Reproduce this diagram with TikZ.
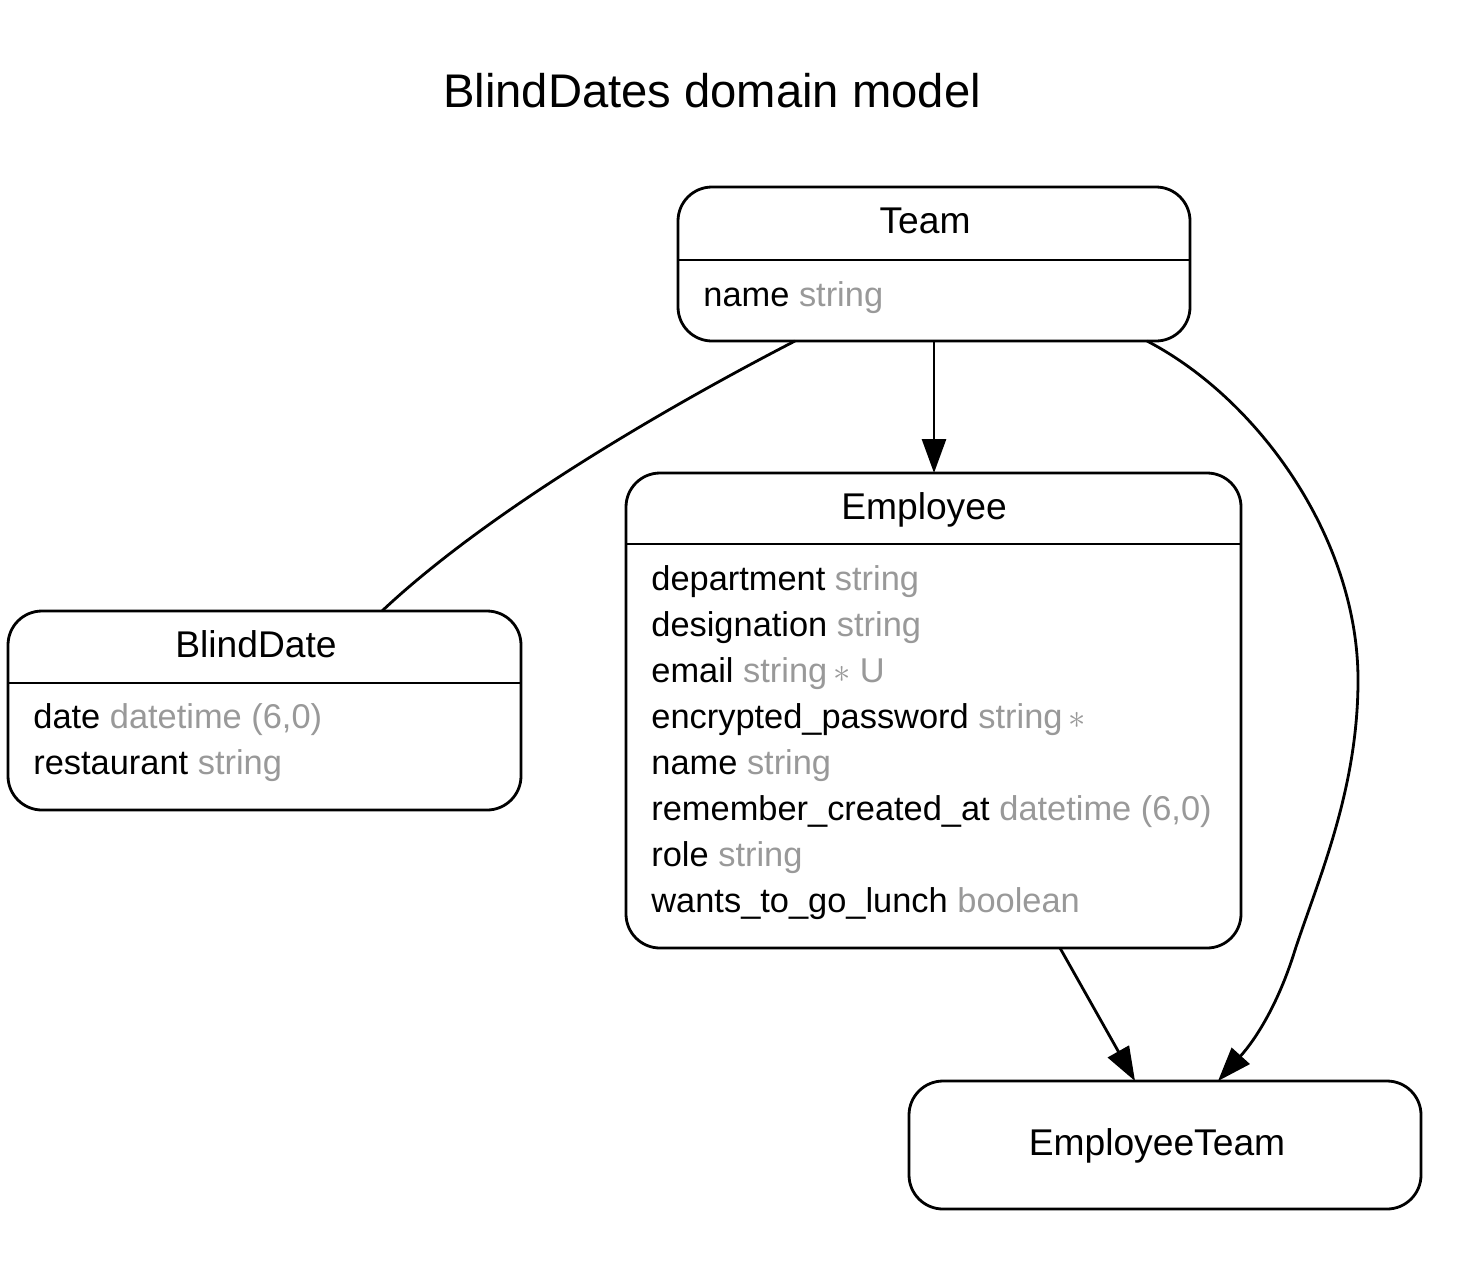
\documentclass[tikz,border=0pt]{standalone}
\usepackage{fontspec}
\setmainfont{Liberation Sans}
\usetikzlibrary{arrows.meta,calc}
\definecolor{attrgray}{HTML}{999999}
\newcommand{\gt}[1]{{\color{attrgray}#1}}
\begin{document}
\begin{tikzpicture}[x=0.5pt,y=-0.5pt,
  entity/.style={draw,line width=1.4pt,rounded corners=17pt,rectangle,outer sep=0pt,inner sep=0pt},
  ename/.style={anchor=base,inner sep=0pt,font=\fontsize{18.6}{22}\selectfont},
  attr/.style={anchor=base west,inner sep=0pt,font=\fontsize{17.2}{20}\selectfont},
  conn/.style={line width=1.4pt},
  arr/.style={conn,-{Triangle[length=17pt,width=12pt]}}]
\useasboundingbox (0,0) rectangle (1476,1264);
\fill[white] (0,0) rectangle (1476,1264);
% title
\node[anchor=base,inner sep=0pt,font=\fontsize{23.6}{28}\selectfont] (title) at (712,107) {BlindDates domain model};
% boxes
\node[entity,minimum width=256pt,minimum height=77pt] (team) at (934,264) {};
\node[entity,minimum width=307.5pt,minimum height=237.5pt] (emp) at (933.5,710.5) {};
\node[entity,minimum width=256.5pt,minimum height=99.5pt] (bd) at (264.5,710.5) {};
\node[entity,minimum width=256pt,minimum height=64pt] (et) at (1165,1145) {};
% dividers
\draw[line width=1.4pt] (team.west |- 0,260) -- (team.east |- 0,260);
\draw[line width=1.4pt] (emp.west |- 0,544) -- (emp.east |- 0,544);
\draw[line width=1.4pt] (bd.west |- 0,683) -- (bd.east |- 0,683);
% titles
\node[ename] (teamt) at (925,233) {Team};
\node[ename] (empt) at (924,519) {Employee};
\node[ename] (bdt) at (256,657) {BlindDate};
\node[ename] (ett) at (1157,1155) {EmployeeTeam};
% attributes
\node[attr] (ta1) at (703,306) {name \gt{string}};
\node[attr] (ea1) at (651,590) {department \gt{string}};
\node[attr] (ea2) at (651,636) {designation \gt{string}};
\node[attr] (ea3) at (651,682) {email \gt{string\,$\ast$ U}};
\node[attr] (ea4) at (651,728) {encrypted\_password \gt{string\,$\ast$}};
\node[attr] (ea5) at (651,774) {name \gt{string}};
\node[attr] (ea6) at (651,820) {remember\_created\_at \gt{datetime (6,0)}};
\node[attr] (ea7) at (651,866) {role \gt{string}};
\node[attr] (ea8) at (651,912) {wants\_to\_go\_lunch \gt{boolean}};
\node[attr] (ba1) at (33,728) {date \gt{datetime (6,0)}};
\node[attr] (ba2) at (33,774) {restaurant \gt{string}};
% connectors
\draw[conn] ($(team.south)+(-139,0)$) .. controls (700,390) and (500,500) .. ($(bd.north)+(117.5,0)$);
\draw[arr] (team.south) -- (team.south |- emp.north);
\draw[arr] ($(team.south)+(213,0)$) .. controls (1260,400) and (1358,540) .. (1358,680)
  .. controls (1358,790) and (1318,880) .. (1295,950)
  .. controls (1278,1005) and (1255,1040) .. ($(et.north)+(53,0)$);
\draw[arr] ($(emp.south)+(126.5,0)$) -- ($(et.north)+(-30,0)$);
\end{tikzpicture}
\end{document}
